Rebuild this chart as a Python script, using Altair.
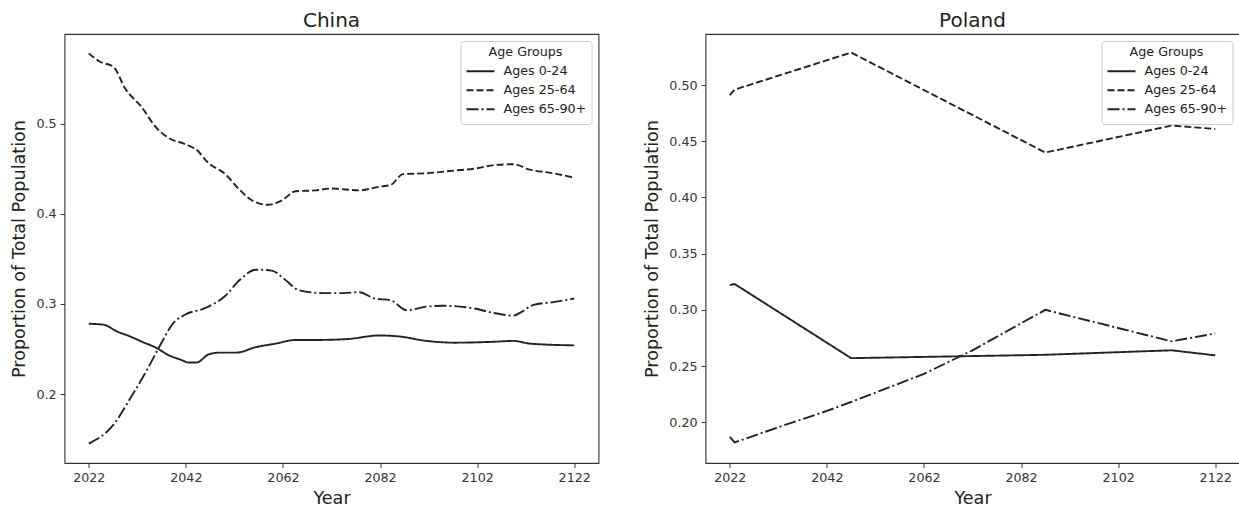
import altair as alt
import pandas as pd

# ---- China: yearly projection, sampled along each curve ----
china_young_years = [2022, 2025, 2028, 2030, 2033, 2036, 2038.5, 2041, 2042.6, 2044.2, 2046.7, 2049, 2052.4,
                     2056.4, 2060.5, 2064.6, 2068.7, 2075.2, 2081.8, 2085.8, 2091.6, 2097.3, 2105.4, 2109.5,
                     2112.8, 2122]
china_young = [0.278, 0.277, 0.269, 0.265, 0.258, 0.251, 0.243, 0.238, 0.235, 0.235, 0.244, 0.246, 0.246,
               0.252, 0.256, 0.260, 0.260, 0.261, 0.265, 0.264, 0.259, 0.257, 0.258, 0.259,
               0.256, 0.254]

china_work_years = [2022, 2024.2, 2027.1, 2029.5, 2032.8, 2036, 2038.5, 2042, 2044.2, 2046.7, 2049.9, 2053.2,
                    2055.6, 2058.9, 2061.8, 2064.6, 2068.7, 2072, 2077.7, 2081.8, 2084.2, 2086.7, 2091.6,
                    2097.3, 2101.3, 2105.4, 2109.5, 2112.8, 2117.7, 2122]
china_work = [0.578, 0.569, 0.563, 0.539, 0.519, 0.495, 0.484, 0.477, 0.471, 0.456, 0.445, 0.426,
              0.415, 0.410, 0.415, 0.425, 0.426, 0.428, 0.426, 0.430, 0.432, 0.444, 0.445,
              0.448, 0.450, 0.454, 0.455, 0.449, 0.445, 0.440]

china_old_years = [2022, 2027.1, 2030.3, 2033.6, 2036.9, 2039.3, 2041.8, 2045.8, 2049.9, 2053.2, 2056.4, 2059.7,
                   2062.2, 2065.4, 2070.3, 2074.4, 2077.7, 2080.9, 2084.2, 2087.5, 2091.6, 2094.8, 2101.3,
                   2105.4, 2109.5, 2111.1, 2113.6, 2117.7, 2122]
china_old = [0.145, 0.166, 0.193, 0.223, 0.256, 0.278, 0.288, 0.295, 0.308, 0.327, 0.338, 0.337,
             0.328, 0.315, 0.312, 0.312, 0.313, 0.306, 0.304, 0.293, 0.297, 0.298, 0.295,
             0.290, 0.287, 0.291, 0.299, 0.302, 0.306]

# ---- Poland: projection with a few breakpoints ----
poland_young_years = [2022, 2023, 2047, 2087, 2113, 2122]
poland_young = [0.322, 0.323, 0.257, 0.260, 0.264, 0.2595]

poland_work_years = [2022, 2023, 2047, 2087, 2113, 2122]
poland_work = [0.491, 0.496, 0.529, 0.440, 0.464, 0.461]

poland_old_years = [2022, 2023, 2033, 2042, 2047, 2062, 2072, 2082, 2087, 2113, 2122]
poland_old = [0.187, 0.182, 0.197, 0.210, 0.218, 0.243, 0.264, 0.288, 0.300, 0.272, 0.279]

groups = ["Ages 0-24", "Ages 25-64", "Ages 65-90+"]
dashes = [[1, 0], [7, 3], [12, 3, 2, 3]]
year_ticks = [2022, 2042, 2062, 2082, 2102, 2122]

INK = "#222222"
FONT = "DejaVu Sans"


def frame(series):
    rows = []
    for name, years, values in series:
        rows += [{"year": y, "share": v, "group": name} for y, v in zip(years, values)]
    return pd.DataFrame(rows)


china_df = frame([
    (groups[0], china_young_years, china_young),
    (groups[1], china_work_years, china_work),
    (groups[2], china_old_years, china_old),
])
poland_df = frame([
    (groups[0], poland_young_years, poland_young),
    (groups[1], poland_work_years, poland_work),
    (groups[2], poland_old_years, poland_old),
])


def panel(df, title, y_domain, y_ticks, y_format, interp):
    return alt.Chart(df).mark_line(color=INK, strokeWidth=1.9, interpolate=interp).encode(
        x=alt.X("year:Q",
                scale=alt.Scale(domain=[2017, 2127], nice=False, zero=False),
                axis=alt.Axis(values=year_ticks, format="d", title="Year",
                              labelPadding=3.6, titlePadding=6)),
        y=alt.Y("share:Q",
                scale=alt.Scale(domain=y_domain, nice=False, zero=False),
                axis=alt.Axis(values=y_ticks, format=y_format, title="Proportion of Total Population",
                              labelPadding=4, titlePadding=7)),
        strokeDash=alt.StrokeDash(
            "group:N",
            scale=alt.Scale(domain=groups, range=dashes),
            legend=alt.Legend(
                title="Age Groups", orient="top-right", offset=7,
                titleFont=FONT, titleFontSize=12.7, titleFontWeight="normal", titleColor=INK,
                titleAnchor="middle", titlePadding=3,
                labelFont=FONT, labelFontSize=12.7, labelColor=INK, labelOffset=8,
                symbolType="stroke", symbolSize=784, symbolStrokeWidth=1.9, symbolStrokeColor=INK,
                clipHeight=19, rowPadding=0, padding=5,
                strokeColor="#cccccc", fillColor="rgba(255,255,255,0.8)", cornerRadius=3,
            ),
        ),
    ).properties(
        width=534, height=429,
        title=alt.TitleParams(text=title, fontSize=20, fontWeight="normal", font=FONT,
                              color=INK, anchor="middle", offset=3),
    )


china = panel(china_df, "China", [0.1235, 0.5995], [0.2, 0.3, 0.4, 0.5], ".1f", "monotone")
poland = panel(poland_df, "Poland", [0.1637, 0.5455], [0.20, 0.25, 0.30, 0.35, 0.40, 0.45, 0.50], ".2f", "linear")

chart = alt.hconcat(china, poland, spacing=107, bounds="flush").resolve_scale(
    x="independent", y="independent", strokeDash="independent"
).resolve_legend(strokeDash="independent").properties(
    autosize=alt.AutoSizeParams(type="none"),
    padding={"left": 64.5, "top": 34, "right": 1174.5, "bottom": 474},
).configure(font=FONT).configure_view(
    stroke="#333333", strokeWidth=1.1
).configure_axis(
    grid=False, domain=False,
    tickSize=4.4, tickColor="#333333", tickWidth=1,
    labelFont=FONT, labelFontSize=12.7, labelColor="#333333",
    titleFont=FONT, titleFontSize=17.6, titleFontWeight="normal", titleColor=INK,
)

chart.save("out.html", embed_options={"renderer": "svg", "actions": False})
